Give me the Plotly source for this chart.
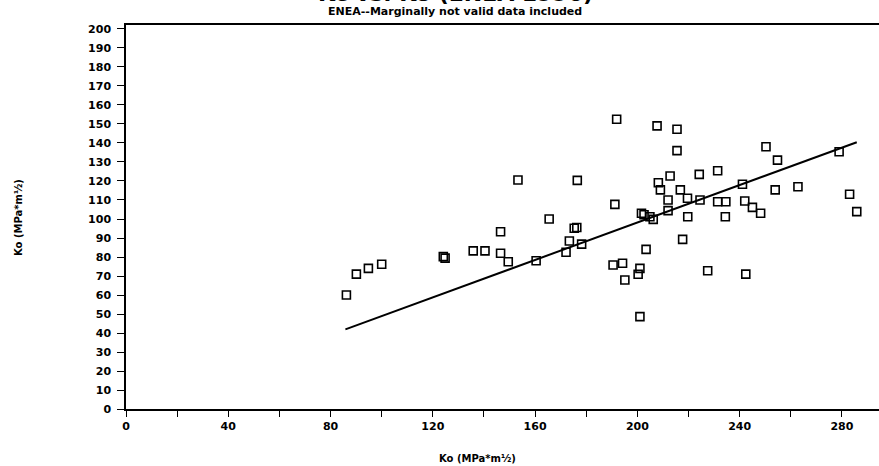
import plotly.graph_objects as go

# --- data ---
ko_x = [86.2, 90.1, 94.8, 100.0, 124.1, 124.8, 135.8, 140.4, 146.5, 146.5,
        149.5, 153.3, 160.4, 165.5, 172.1, 173.4, 175.3, 176.3, 176.5, 178.2,
        190.5, 191.2, 191.9, 194.2, 195.1, 200.3, 201.0, 201.0, 201.6, 202.6,
        203.4, 204.9, 206.2, 207.7, 208.2, 209.0, 212.0, 212.0, 212.8, 215.5,
        215.5, 216.8, 217.7, 219.6, 219.7, 224.2, 224.5, 227.5, 231.4, 231.4,
        234.6, 234.4, 241.1, 242.0, 242.4, 245.0, 248.2, 250.3, 253.9, 254.8,
        262.8, 278.9, 283.0, 285.8]
ko_y = [60.0, 71.0, 74.0, 76.2, 80.2, 79.4, 83.2, 83.2, 93.3, 82.0,
        77.5, 120.5, 78.0, 100.0, 82.5, 88.4, 95.1, 95.5, 120.3, 86.8,
        75.8, 107.7, 152.5, 76.7, 67.9, 70.9, 74.0, 48.6, 103.0, 102.2,
        84.0, 101.2, 99.8, 149.0, 119.1, 115.3, 110.0, 104.4, 122.6, 147.2,
        136.0, 115.3, 89.3, 110.9, 101.2, 123.5, 110.0, 72.8, 125.4, 109.1,
        109.1, 101.2, 118.3, 109.5, 71.0, 106.1, 103.0, 138.0, 115.3, 131.0,
        117.0, 135.4, 113.0, 103.9]

fit_x = [85.8, 285.8]
fit_y = [41.9, 140.4]

x_tick_vals = list(range(0, 300, 20))
x_tick_text = [str(v) if v % 40 == 0 else "" for v in x_tick_vals]
y_tick_vals = list(range(0, 210, 10))

title_text = "Kc vs. Ko (ENEA 1996)"
subtitle_text = "ENEA--Marginally not valid data included"
x_title = "Ko (MPa*m½)"
y_title = "Ko (MPa*m½)"

FONT = "DejaVu Sans"

fig = go.Figure()
fig.add_trace(go.Scatter(
    x=fit_x, y=fit_y, mode="lines",
    line=dict(color="black", width=2), hoverinfo="skip", showlegend=False))
fig.add_trace(go.Scatter(
    x=ko_x, y=ko_y, mode="markers",
    marker=dict(symbol="square-open", size=8, color="black",
                line=dict(color="black", width=1.6)),
    showlegend=False))

fig.update_layout(
    width=879, height=466,
    margin=dict(l=126, r=0, t=25, b=57),
    paper_bgcolor="white", plot_bgcolor="white",
    font=dict(family=FONT, color="black"),
    showlegend=False,
)

fig.update_xaxes(
    range=[0, 294.5], showgrid=False, zeroline=False,
    showline=True, linecolor="black", linewidth=1.5, mirror=True,
    ticks="outside", ticklen=6, tickwidth=1.2, tickcolor="black",
    tickvals=x_tick_vals, ticktext=x_tick_text,
    tickfont=dict(family=FONT, size=11, weight="bold"),
)
fig.update_yaxes(
    range=[0, 202.1], showgrid=False, zeroline=False,
    showline=True, linecolor="black", linewidth=1.5, mirror=False,
    ticks="outside", ticklen=7, tickwidth=1.2, tickcolor="black",
    tickvals=y_tick_vals,
    tickfont=dict(family=FONT, size=11, weight="bold"),
    ticklabelstandoff=4,
)

# title (partially cut off at the top as in the reference)
fig.add_annotation(text=title_text, xref="paper", yref="paper",
                   x=(455 - 126) / 753, y=1, yshift=18, xanchor="center",
                   yanchor="bottom", showarrow=False, borderpad=0,
                   font=dict(family=FONT, size=22, weight="bold"))
fig.add_annotation(text=subtitle_text, xref="paper", yref="paper",
                   x=(455 - 126) / 753, y=1, yshift=14, xanchor="center",
                   yanchor="middle", showarrow=False, borderpad=0,
                   font=dict(family=FONT, size=11, weight="bold"))
fig.add_annotation(text=x_title, xref="paper", yref="paper",
                   x=(477 - 126) / 753, y=0, yshift=-49, xanchor="center",
                   yanchor="middle", showarrow=False,
                   font=dict(family=FONT, size=10, weight="bold"))
fig.add_annotation(text=y_title, xref="paper", yref="paper",
                   x=0, xshift=-108, y=(409 - 218) / 384, textangle=-90,
                   xanchor="center", yanchor="middle", showarrow=False,
                   font=dict(family=FONT, size=10, weight="bold"))

fig.write_html("out.html",
               config={"displayModeBar": False},
               post_script="document.body.style.margin='0';")
